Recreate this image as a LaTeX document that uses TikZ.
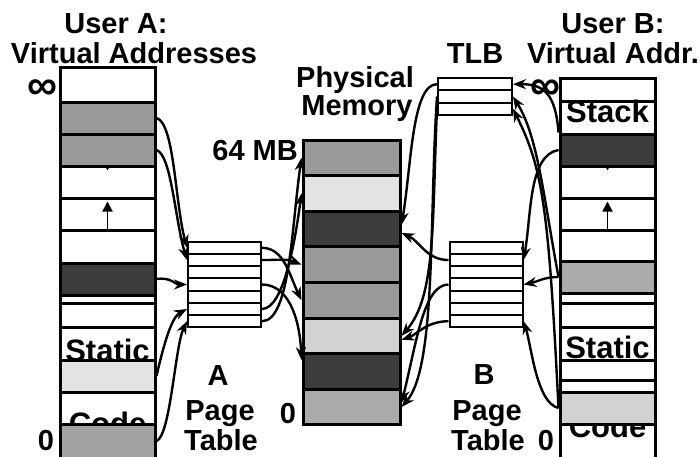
\documentclass[tikz,border=0pt]{standalone}
\usepackage{fontspec}
\setmainfont{Liberation Sans}
\usepackage{tikz}
\usetikzlibrary{arrows.meta}
\definecolor{memgray}{HTML}{999999}
\definecolor{memdark}{HTML}{3C3C3C}
\definecolor{memlight}{HTML}{E3E3E3}
\definecolor{mempale}{HTML}{D2D2D2}
\definecolor{memsoft}{HTML}{ABABAB}
\newcommand{\lblfont}{\fontsize{29}{31}\selectfont\bfseries}
\newcommand{\segfont}{\fontsize{31}{33}\selectfont\bfseries}
\newcommand{\inffont}{\fontsize{42}{42}\selectfont\bfseries}

\begin{document}
\begin{tikzpicture}[x=1pt, y=-1pt,
    seg/.style={draw, line width=3pt, fill=white, minimum width=95pt, inner sep=0pt},
    mem/.style={draw, line width=3pt, minimum width=97pt, minimum height=35.6pt, inner sep=0pt},
    ptrow/.style={draw, line width=2pt, fill=white, minimum width=73pt, minimum height=12.23pt, inner sep=0pt},
    txt/.style={font=\lblfont, inner sep=0pt, anchor=base},
    big/.style={font=\segfont, inner sep=0pt, anchor=base},
    inf/.style={font=\inffont, inner sep=0pt, text height=20pt, text depth=0pt, anchor=base},
    arr/.style={-{Stealth[length=13pt, width=10pt]}, line width=2.4pt},
    growarr/.style={-{Triangle[length=10pt, width=10pt]}, line width=1.8pt}]
  \useasboundingbox (0,0) rectangle (699,456);

  % user A virtual address space
  \node[seg, minimum height=35pt] (va1) at (107.5,84.5) {};
  \node[big] (stka) at (107.5,124) {Stack};
  \node[seg, fill=memgray, minimum height=32pt] (va2) at (107.5,118) {};
  \node[seg, minimum height=32pt] (va4) at (107.5,182) {};
  \draw[growarr] (va4.north) -- ([yshift=-6pt]va4.north);
  \node[seg, fill=memgray, minimum height=32pt] (va3) at (107.5,150) {};
  \node[seg, minimum height=32pt] (va5) at (107.5,214) {};
  \draw[growarr] (va5.south) -- ([yshift=-5pt]va5.north);
  \node[seg, minimum height=33pt] (va6) at (107.5,246.5) {};
  \node[seg, fill=memdark, minimum height=32pt] (va7) at (107.5,279) {};
  \node[seg, minimum height=8pt] (va8) at (107.5,299) {};
  \node[seg, minimum height=24pt] (va9) at (107.5,315) {};
  \node[seg, minimum height=33pt] (va10) at (107.5,343.5) {};
  \node[big] (stca) at (107.5,361) {Static};
  \node[seg, fill=memlight, minimum height=32pt] (va11) at (107.5,376) {};
  \node[seg, minimum height=32pt] (va12) at (107.5,408) {};
  \node[big] (coda) at (107.5,434) {Code};
  \node[seg, fill=memgray!90!white, minimum height=34pt] (va13) at (107.5,441) {};

  % user B virtual address space
  \node[seg, minimum height=23pt] (vb1) at (607.5,89.5) {};
  \node[seg, minimum height=33pt] (vb2) at (607.5,117.5) {};
  \node[big] (stkb) at (607.5,122) {Stack};
  \node[seg, minimum height=32pt] (vb4) at (607.5,182) {};
  \draw[growarr] (vb4.north) -- ([yshift=-6pt]vb4.north);
  \node[seg, fill=memdark, minimum height=32pt] (vb3) at (607.5,150) {};
  \node[seg, minimum height=32pt] (vb5) at (607.5,214) {};
  \draw[growarr] (vb5.south) -- ([yshift=-5pt]vb5.north);
  \node[seg, minimum height=31pt] (vb6) at (607.5,245.5) {};
  \node[seg, fill=memsoft, minimum height=32pt] (vb7) at (607.5,277) {};
  \node[seg, minimum height=10pt] (vb8) at (607.5,298) {};
  \node[seg, minimum height=24pt] (vb9) at (607.5,315) {};
  \node[seg, minimum height=33pt] (vb10) at (607.5,343.5) {};
  \node[big] (stcb) at (607.5,358) {Static};
  \node[seg, minimum height=20pt] (vb11) at (607.5,370) {};
  \node[seg, minimum height=12pt] (vb12) at (607.5,386) {};
  \node[seg, minimum height=34pt] (vb14) at (607.5,441) {};
  \node[big] (codb) at (607.5,437) {Code};
  \node[seg, fill=mempale, minimum height=32pt] (vb13) at (607.5,408) {};

  % physical memory, page tables, TLB
  \foreach \c [count=\i] in {memgray, memlight, memdark, memgray, memgray, mempale, memdark, memsoft}
    \node[mem, fill=\c] (pm\i) at (351.5,{140+35.6*(\i-0.5)}) {};
  \foreach \i in {1,...,7} {
    \node[ptrow] (pa\i) at (224.5,{241.7+12.23*(\i-0.5)}) {};
    \node[ptrow] (pb\i) at (486,{241.7+12.23*(\i-0.5)}) {};
  }
  \foreach \i in {1,2,3}
    \node[ptrow, minimum width=74pt, minimum height=12.33pt] (tlb\i) at (475,{78+12.33*(\i-0.5)}) {};

  % labels
  \node[txt] (ttla1) at (116,33) {User A:};
  \node[txt] (ttla2) at (134,63) {Virtual Addresses};
  \node[txt] (ttlb1) at (613,33) {User B:};
  \node[txt] (ttlb2) at (613,63) {Virtual Addr.};
  \node[txt] (ttltlb) at (475,63) {TLB};
  \node[txt] (ttlpm1) at (355,87) {Physical};
  \node[txt] (ttlpm2) at (357,115) {Memory};
  \node[txt, anchor=base east] (mb64) at (298,160) {64 MB};
  \node[txt] (zpm) at (288,423) {0};
  \node[txt] (za) at (46,450) {0};
  \node[txt] (zb) at (546,450) {0};
  \node[inf] (infa) at (42,99) {∞};
  \node[inf] (infb) at (545,99) {∞};
  \node[txt] (pta1) at (218,385) {A};
  \node[txt] (pta2) at (220,420) {Page};
  \node[txt] (pta3) at (221,450) {Table};
  \node[txt] (ptb1) at (484,384) {B};
  \node[txt] (ptb2) at (487,420) {Page};
  \node[txt] (ptb3) at (488,450) {Table};

  % A: virtual -> page table -> physical
  \draw[arr] (va2.east) .. controls +(18,5) and +(-12,-45) .. (pa1.west);
  \draw[arr] (va3.east) .. controls +(15,5) and +(-12,-40) .. (pa2.west);
  \draw[arr] (va7.east) .. controls +(15,-2) and +(-12,0) .. (pa4.west);
  \draw[arr] (va11.east) .. controls +(8,-35) and +(-15,8) .. (pa6.west);
  \draw[arr] (va13.east) .. controls +(14,-5) and +(-12,25) .. (pa7.west);
  \draw[arr] (pa1.east) .. controls +(22,0) and +(-12,-25) .. (pm5.west);
  \draw[arr] (pa2.east) .. controls +(18,0) and +(-15,-6) .. (pm4.west);
  \draw[arr] (pa4.east) .. controls +(25,0) and +(-2,-45) .. ([yshift=-8pt]pm7.north west);
  \draw[arr] (pa6.east) .. controls +(22,0) and +(-6,45) .. (pm2.west);
  \draw[arr] (pa7.east) .. controls +(28,0) and +(-10,70) .. (pm1.west);

  % B: virtual -> TLB / page table -> physical
  \draw[arr] (vb3.north west) .. controls +(-3,-40) and +(30,0) .. (tlb1.east);
  \draw[arr] (vb7.west) .. controls +(-15,-80) and +(25,40) .. (tlb2.east);
  \draw[arr] (vb13.west) .. controls +(-10,-200) and +(30,60) .. (tlb3.east);
  \draw[arr] (vb3.west) .. controls +(-30,5) and +(8,-45) .. (pb2.east);
  \draw[arr] (vb7.west) .. controls +(-15,0) and +(15,-3) .. (pb4.east);
  \draw[arr] (vb13.west) .. controls +(-22,-5) and +(8,25) .. (pb7.east);
  \draw[arr] (tlb1.west) .. controls +(-25,0) and +(10,-60) .. ([yshift=4pt]pm3.east);
  \draw[arr] (tlb2.west) .. controls +(-8,120) and +(35,-40) .. (pm8.east);
  \draw[arr] (tlb3.west) .. controls +(-5,110) and +(35,-40) .. (pm6.east);
  \draw[arr] (pb2.west) .. controls +(-22,0) and +(18,8) .. ([yshift=-4pt]pm3.east);
  \draw[arr] (pb4.west) .. controls +(-25,0) and +(15,-60) .. ([yshift=4pt]pm8.east);
  \draw[arr] (pb7.west) .. controls +(-22,0) and +(15,-5) .. ([yshift=-4pt]pm6.east);
\end{tikzpicture}
\end{document}
